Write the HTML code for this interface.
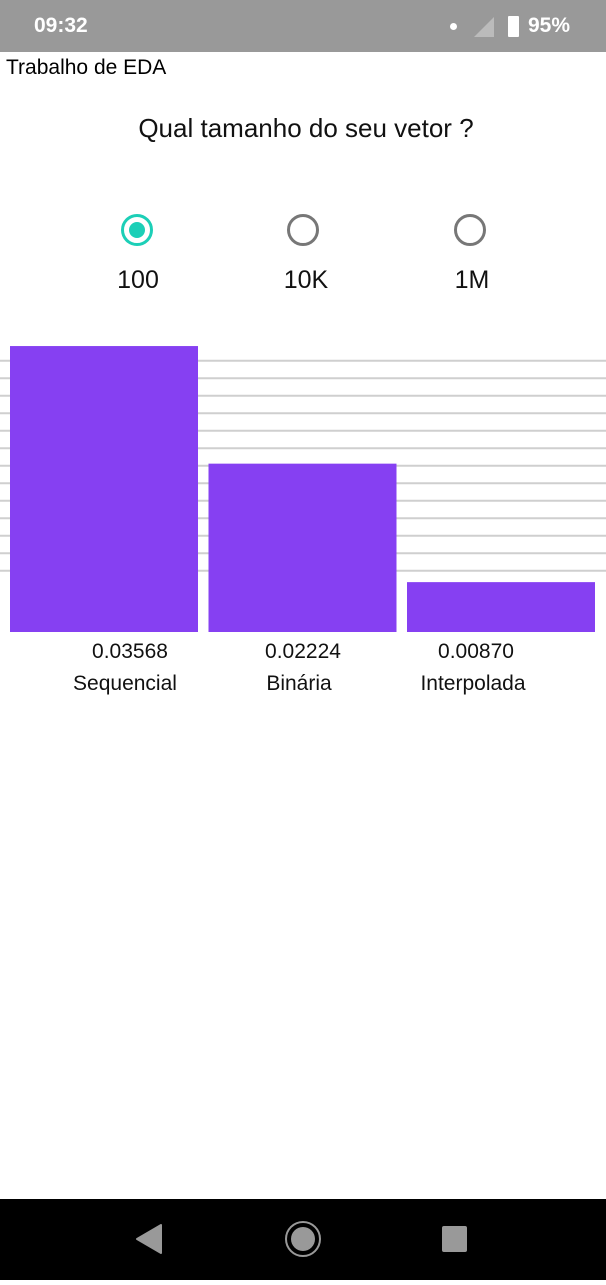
<!DOCTYPE html>
<html><head><meta charset="utf-8">
<style>
body{margin:0;width:606px;height:1280px;position:relative;background:#fff;font-family:"Liberation Sans",sans-serif;overflow:hidden}
.abs{position:absolute}
</style></head>
<body>
<div class="abs" style="left:0;top:0;width:606px;height:52px;background:#999">
  <div class="abs" style="left:34px;top:14px;color:#fff;font-size:21px;font-weight:bold">09:32</div>
  <div class="abs" style="left:450px;top:23px;width:7px;height:7px;border-radius:50%;background:#fff"></div>
  <svg class="abs" style="left:474px;top:17px" width="20" height="20"><polygon points="20,0 20,20 0,20" fill="#bbb"/></svg>
  <div class="abs" style="left:508px;top:16px;width:11px;height:21px;background:#fff;border-radius:1px"></div>
  <div class="abs" style="left:528px;top:14px;color:#fff;font-size:21px;font-weight:bold">95%</div>
</div>
<div class="abs" style="left:6px;top:56px;font-size:21px;color:#000">Trabalho de EDA</div>
<div class="abs" style="left:0;width:612px;top:113px;text-align:center;font-size:26px;color:#111">Qual tamanho do seu vetor ?</div>

<svg class="abs" style="left:0;top:0" width="606" height="320">
  <g><circle cx="137" cy="230" r="14.5" fill="none" stroke="#1ccfb7" stroke-width="3"/><circle cx="137" cy="230" r="8" fill="#1ccfb7"/></g>
  <g><circle cx="303" cy="230" r="14.5" fill="none" stroke="#777" stroke-width="3"/></g>
  <g><circle cx="470" cy="230" r="14.5" fill="none" stroke="#777" stroke-width="3"/></g>
  <text x="138" y="288" text-anchor="middle" font-size="25" fill="#111">100</text>
  <text x="306" y="288" text-anchor="middle" font-size="25" fill="#111">10K</text>
  <text x="472" y="288" text-anchor="middle" font-size="25" fill="#111">1M</text>
</svg>

<svg id="chart" class="abs" style="left:0;top:320px" width="606" height="400"></svg>

<div class="abs" style="left:0;top:1199px;width:606px;height:81px;background:#000">
  <svg width="606" height="81">
    <polygon points="161,26 161,54 137,40" fill="#999" stroke="#999" stroke-linejoin="round" stroke-width="2"/>
    <g><circle cx="303" cy="40" r="17" fill="none" stroke="#999" stroke-width="2"/><circle cx="303" cy="40" r="12" fill="#999"/></g>
    <rect x="442" y="27" width="25" height="26" rx="2" fill="#999"/>
  </svg>
</div>

<script>
const categories = ["Sequencial", "Binária", "Interpolada"];
const values = [0.03568, 0.02224, 0.00870];
const valueLabels = ["0.03568", "0.02224", "0.00870"];
const gridTicks = [0.010,0.012,0.014,0.016,0.018,0.020,0.022,0.024,0.026,0.028,0.030,0.032,0.034];

const NS = "http://www.w3.org/2000/svg";
const svg = document.getElementById("chart");
const baseY = 312, yMin = 0.003, pxPer = 8750;
function y(v){ return baseY - (v - yMin) * pxPer; }
const slotX0 = 10, slotW = 198.5, barW = 188;
function x(i){ return slotX0 + i * slotW; }
function labelX(i){ return 130 + i * 173; }
function catX(i){ return 125 + i * 174; }
function mk(tag, attrs){ const e = document.createElementNS(NS, tag); for (const k in attrs) e.setAttribute(k, attrs[k]); svg.appendChild(e); return e; }

gridTicks.forEach(t => {
  const l = mk("line", {x1:0, x2:606, y1:y(t), y2:y(t), stroke:"#cfcfcf", "stroke-width":2});
  
  
});
values.forEach((v, i) => {
  const r = mk("rect", {x:x(i), y:y(v), width:barW, height:baseY - y(v), fill:"#8640f2"});
  
  
  const t1 = mk("text", {x:labelX(i), y:338, "text-anchor":"middle", "font-size":21, fill:"#111"});
  t1.textContent = valueLabels[i];
  
  
  const t2 = mk("text", {x:catX(i), y:370, "text-anchor":"middle", "font-size":21, fill:"#111"});
  t2.textContent = categories[i];
  
  
});
</script>
</body></html>
